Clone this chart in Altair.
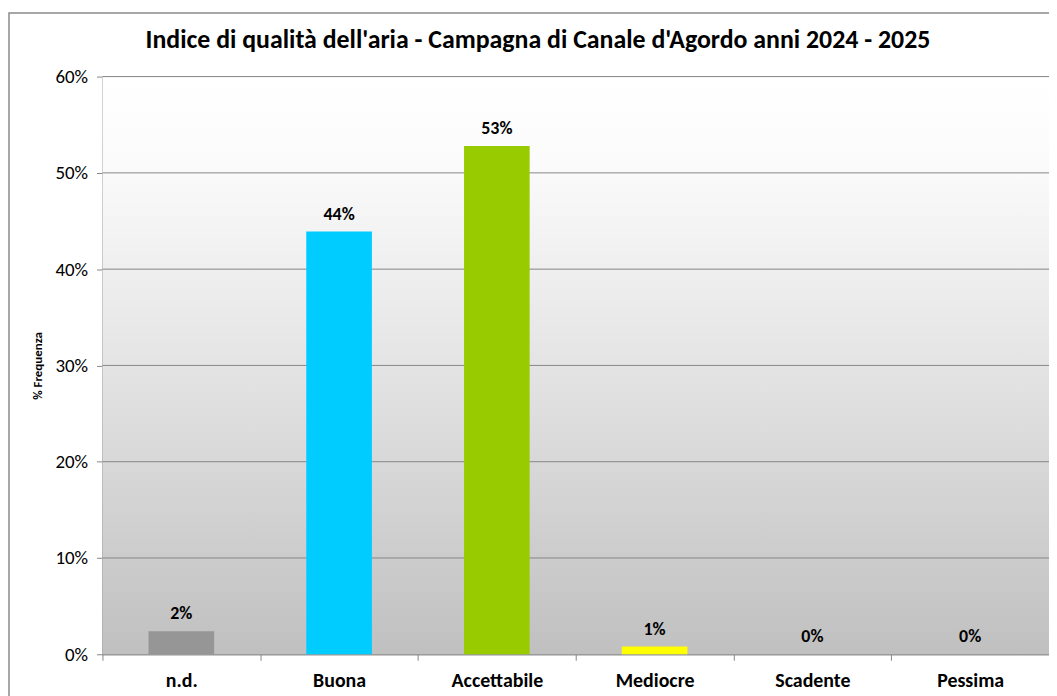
import altair as alt
import pandas as pd

categories = ["n.d.", "Buona", "Accettabile", "Mediocre", "Scadente", "Pessima"]
values = [0.024, 0.439, 0.528, 0.008, 0.0, 0.0]
colors = ["#969696", "#00ccff", "#99cc00", "#ffff00", "#c0c0c0", "#c0c0c0"]
y_ticks = [0.0, 0.1, 0.2, 0.3, 0.4, 0.5, 0.6]

TITLE = "Indice di qualità dell'aria - Campagna di Canale d'Agordo anni 2024 - 2025"
FONT = "Carlito, Calibri, Lato, sans-serif"
W, H = 952, 581

df = pd.DataFrame({"cat": categories, "val": values, "col": colors})
grid_df = pd.DataFrame({"t": y_ticks[1:]})
bg_df = pd.DataFrame({"a": [0]})

x_enc = alt.X(
    "cat:N",
    sort=categories,
    scale=alt.Scale(domain=categories, paddingInner=0, paddingOuter=0),
    axis=alt.Axis(
        title=None,
        labelAngle=0,
        labelFont=FONT,
        labelFontSize=20,
        labelFontWeight="bold",
        labelColor="#000000",
        labelPadding=10,
        tickBand="extent",
        tickSize=6,
        tickColor="#868686",
        domainColor="#868686",
        grid=False,
    ),
)

y_scale = alt.Scale(domain=[0, 0.6], nice=False)

frame = alt.Chart(bg_df).mark_rect(
    fill=None, stroke="#8a8a8a", strokeWidth=1.5
).encode(
    x=alt.value(-94), x2=alt.value(W + 20), y=alt.value(-64), y2=alt.value(H + 80)
)

bg = alt.Chart(bg_df).mark_rect(
    fill=alt.Gradient(
        gradient="linear",
        x1=0, x2=0, y1=0, y2=1,
        stops=[
            alt.GradientStop(offset=0, color="#ffffff"),
            alt.GradientStop(offset=0.15, color="#fbfbfb"),
            alt.GradientStop(offset=0.5, color="#e4e4e4"),
            alt.GradientStop(offset=1, color="#c0c0c0"),
        ],
    )
).encode(
    x=alt.value(0), x2=alt.value(W), y=alt.value(0), y2=alt.value(H)
)

grid = alt.Chart(grid_df).mark_rule(color="#868686", strokeWidth=1).encode(
    y=alt.Y("t:Q", scale=y_scale)
)

bars = alt.Chart(df).mark_bar(size=66).encode(
    x=x_enc,
    y=alt.Y(
        "val:Q",
        scale=y_scale,
        axis=alt.Axis(
            values=y_ticks,
            format=".0%",
            title="% Frequenza",
            titleFont=FONT,
            titleFontSize=13,
            titleFontWeight="bold",
            titleColor="#000000",
            titlePadding=10,
            labelFont=FONT,
            labelFontSize=19,
            labelColor="#000000",
            labelPadding=9,
            tickSize=6,
            tickColor="#868686",
            domainColor="#868686",
            grid=False,
        ),
    ),
    fill=alt.Fill("col:N", scale=None),
)

labels = alt.Chart(df).mark_text(
    baseline="bottom", dy=-8, font=FONT, fontSize=18, fontWeight="bold", color="#000000"
).encode(
    x=alt.X("cat:N", sort=categories),
    y=alt.Y("val:Q", scale=y_scale),
    text=alt.Text("val:Q", format=".0%"),
)

chart = alt.layer(frame, bg, grid, bars, labels).properties(
    width=W,
    height=H,
    title=alt.TitleParams(
        TITLE, font=FONT, fontSize=26, fontWeight="bold", color="#000000",
        anchor="middle", frame="group", dx=-38, offset=-41,
    ),
    autosize=alt.AutoSizeParams(type="none"),
    padding={"left": 95, "top": 67, "right": 0, "bottom": 40},
).configure_view(stroke="#868686", strokeWidth=1)

chart.save("out.html", embed_options={"renderer": "svg", "actions": False})
